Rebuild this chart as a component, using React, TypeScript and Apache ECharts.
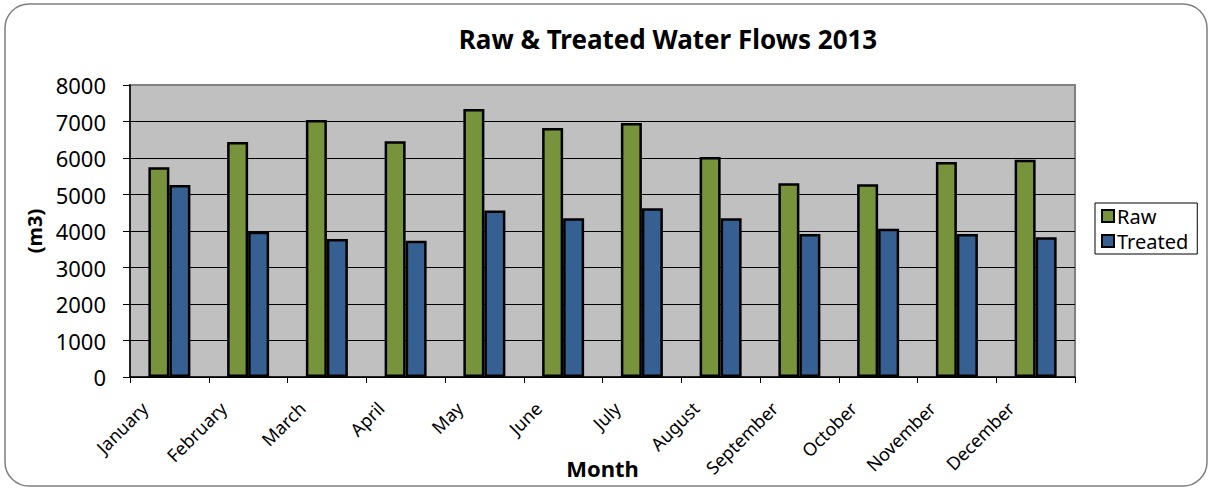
import React, { useEffect, useRef } from "react";
import * as echarts from "echarts";

const months = ["January", "February", "March", "April", "May", "June", "July", "August", "September", "October", "November", "December"];
const rawFlows = [5750, 6440, 7040, 6460, 7340, 6820, 6960, 6030, 5310, 5280, 5890, 5950];
const treatedFlows = [5260, 3980, 3780, 3730, 4560, 4350, 4620, 4350, 3920, 4060, 3920, 3830];
const yTicks = [0, 1000, 2000, 3000, 4000, 5000, 6000, 7000, 8000];

const FONT = "'Noto Sans', 'Open Sans', sans-serif";

export default function App() {
  const ref = useRef<HTMLDivElement>(null);
  useEffect(() => {
    document.body.style.margin = "0";
    const chart = echarts.init(ref.current!, null, { renderer: "svg" });
    chart.setOption({
      animation: false,
      backgroundColor: "#ffffff",
      textStyle: { fontFamily: FONT, color: "#000" },
      title: {
        text: "Raw & Treated Water Flows 2013",
        left: 663,
        top: 21,
        textAlign: "center",
        textStyle: { fontFamily: FONT, fontSize: 26, fontWeight: "bold", color: "#000" },
      },
      graphic: [
        {
          type: "rect",
          shape: { x: 5, y: 4, width: 1202, height: 482, r: 24 },
          style: { fill: "none", stroke: "#7f7f7f", lineWidth: 1.5 },
          silent: true,
          z: -1,
        },
      ],
      legend: {
        orient: "vertical",
        left: 1095,
        top: 203,
        backgroundColor: "#fff",
        borderColor: "#000",
        borderWidth: 1,
        padding: [3, 9, 3, 6],
        itemGap: 5,
        itemWidth: 12,
        itemHeight: 12,
        icon: "rect",
        itemStyle: { borderColor: "#000", borderWidth: 2 },
        textStyle: { fontFamily: FONT, fontSize: 20, color: "#000", padding: [0, 0, 0, -2] },
        data: ["Raw", "Treated"],
      },
      grid: {
        left: 130,
        right: 137,
        top: 85,
        bottom: 112,
        show: true,
        backgroundColor: "#c0c0c0",
        borderColor: "#808080",
        borderWidth: 2,
        containLabel: false,
        outerBoundsMode: "none",
      },
      xAxis: {
        type: "category",
        data: months,
        boundaryGap: true,
        name: "Month",
        nameLocation: "middle",
        nameGap: 80,
        nameMoveOverlap: false,
        nameTextStyle: { fontFamily: FONT, fontSize: 22, fontWeight: "bold", color: "#000" },
        axisLine: { lineStyle: { color: "#000", width: 1.5 } },
        axisTick: { show: true, alignWithLabel: false, length: 6, lineStyle: { color: "#000", width: 1 } },
        axisLabel: {
          rotate: 45,
          margin: 16,
          fontSize: 18,
          color: "#000",
          fontFamily: FONT,
          interval: 0,
          verticalAlign: "bottom",
          padding: [0, 26, 0, 0],
        },
      },
      yAxis: {
        type: "value",
        min: 0,
        max: 8000,
        interval: 1000,
        name: "(m3)",
        nameLocation: "middle",
        nameGap: 80,
        nameRotate: 90,
        nameTextStyle: { fontFamily: FONT, fontSize: 20, fontWeight: "bold", color: "#000" },
        axisLine: { show: true, lineStyle: { color: "#000", width: 1.5 } },
        axisTick: { show: true, length: 7, lineStyle: { color: "#000" } },
        axisLabel: {
          margin: 24,
          fontSize: 22,
          color: "#000",
          fontFamily: FONT,
          formatter: (v: number) => (yTicks.includes(v) ? String(v) : ""),
        },
        splitLine: {
          show: true,
          lineStyle: {
            color: ["#000", "#000", "#000", "#000", "#000", "#000", "#000", "#000", "#808080"],
            width: 1,
          },
        },
      },
      series: [
        {
          name: "Raw",
          type: "bar",
          data: rawFlows,
          barWidth: 21,
          barGap: "0%",
          itemStyle: { color: "#77933c", borderColor: "#000", borderWidth: 2.5 },
        },
        {
          name: "Treated",
          type: "bar",
          data: treatedFlows,
          barWidth: 21,
          barGap: "0%",
          itemStyle: { color: "#376092", borderColor: "#000", borderWidth: 2.5 },
        },
      ],
    });
    return () => chart.dispose();
  }, []);
  return <div ref={ref} style={{ width: 1212, height: 489 }} />;
}
